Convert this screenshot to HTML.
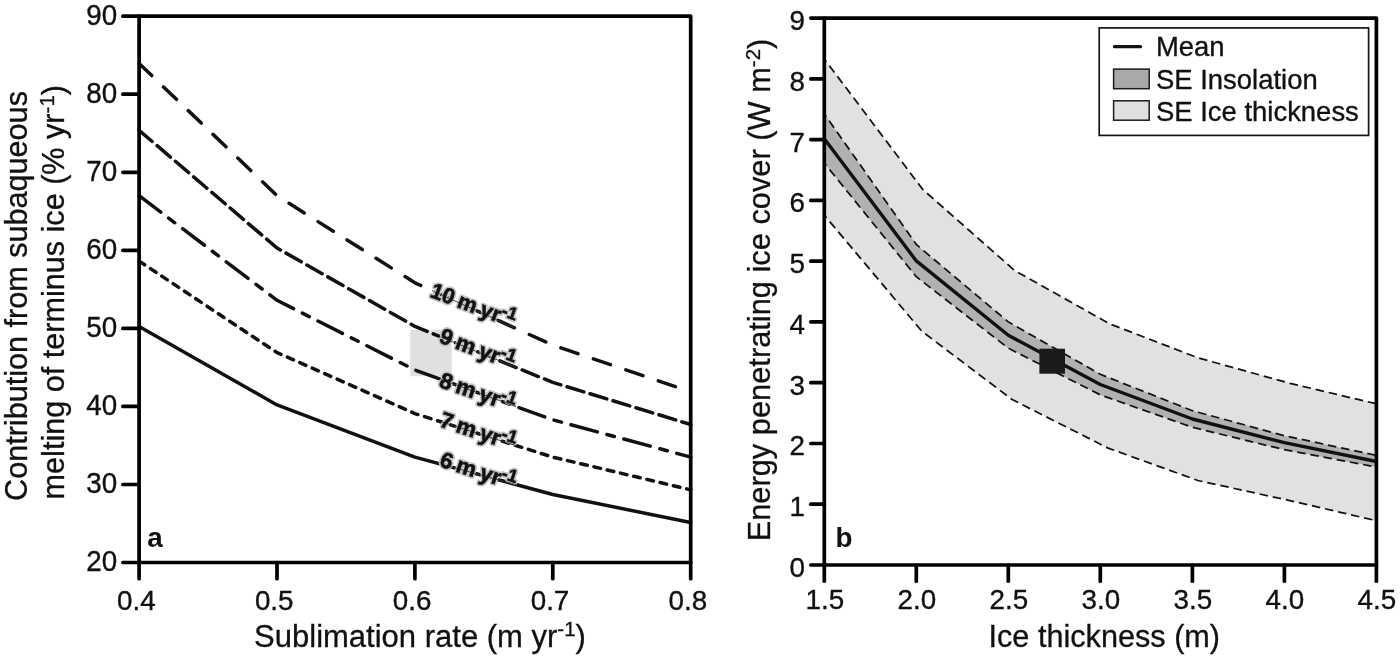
<!DOCTYPE html>
<html lang="en"><head><meta charset="utf-8"><title>Figure</title>
<style>html,body{margin:0;padding:0;background:#fff}svg{display:block}text{font-family:"Liberation Sans",Arial,Helvetica,sans-serif;fill:#111}</style></head><body>
<svg width="1400" height="659" viewBox="0 0 1400 659">
<rect width="1400" height="659" fill="#fff"/>
<g id="panel-a">
<rect x="410.2" y="330" width="41.6" height="46.2" fill="#e0e0e0"/>
<polyline points="139.1,326.4 277.0,404.9 414.9,457.1 552.8,494.5 690.7,522.5" fill="none" stroke="#111" stroke-width="3.5" stroke-linecap="round" stroke-linejoin="round"/>
<polyline points="139.1,261.1 277.0,352.6 414.9,413.6 552.8,457.1 690.7,489.8" fill="none" stroke="#111" stroke-width="3.5" stroke-linecap="round" stroke-linejoin="round" stroke-dasharray="6.7 6.9" stroke-dashoffset="0"/>
<polyline points="139.1,195.7 277.0,300.3 414.9,370.0 552.8,419.8 690.7,457.1" fill="none" stroke="#111" stroke-width="3.5" stroke-linecap="round" stroke-linejoin="round" stroke-dasharray="27.4 9.9 7.7 9.8" stroke-dashoffset="0.2"/>
<polyline points="139.1,130.3 277.0,248.0 414.9,326.4 552.8,382.4 690.7,424.5" fill="none" stroke="#111" stroke-width="3.5" stroke-linecap="round" stroke-linejoin="round" stroke-dasharray="17.5 6.5" stroke-dashoffset="0.3"/>
<polyline points="139.1,63.5 277.0,195.7 414.9,282.8 552.8,345.1 690.7,391.8" fill="none" stroke="#111" stroke-width="3.5" stroke-linecap="round" stroke-linejoin="round" stroke-dasharray="18 16.3" stroke-dashoffset="0.5"/>
<text transform="translate(429.0,296.6) rotate(20.5)" font-size="21.8" font-weight="bold" word-spacing="-1.4" style="font-family:'Liberation Sans',Arial,sans-serif" stroke="#c6c6c6" stroke-width="4" stroke-linejoin="round" fill="#c6c6c6">10 m yr<tspan font-size="17.4" dy="-7.6">-1</tspan></text>
<path d="M432.0 290.6 L516.0 328.5" stroke="#333" stroke-width="0.9" fill="none"/>
<text transform="translate(429.0,296.6) rotate(20.5)" font-size="21.8" font-weight="bold" word-spacing="-1.4" stroke="#111" stroke-width="0.6" style="fill:#111;font-family:'Liberation Sans',Arial,sans-serif">10 m yr<tspan font-size="17.4" dy="-7.6">-1</tspan></text>
<text transform="translate(437.9,342.0) rotate(20.5)" font-size="22.3" font-weight="bold" word-spacing="-1.4" style="font-family:'Liberation Sans',Arial,sans-serif" stroke="#c6c6c6" stroke-width="4" stroke-linejoin="round" fill="#c6c6c6">9 m yr<tspan font-size="17.8" dy="-7.6">-1</tspan></text>
<path d="M440.9 337.0 L516.0 367.5" stroke="#333" stroke-width="0.9" fill="none"/>
<text transform="translate(437.9,342.0) rotate(20.5)" font-size="22.3" font-weight="bold" word-spacing="-1.4" stroke="#111" stroke-width="0.6" style="fill:#111;font-family:'Liberation Sans',Arial,sans-serif">9 m yr<tspan font-size="17.8" dy="-7.6">-1</tspan></text>
<text transform="translate(437.9,386.5) rotate(19)" font-size="22.3" font-weight="bold" word-spacing="-1.4" style="font-family:'Liberation Sans',Arial,sans-serif" stroke="#c6c6c6" stroke-width="4" stroke-linejoin="round" fill="#c6c6c6">8 m yr<tspan font-size="17.8" dy="-7.6">-1</tspan></text>
<path d="M440.9 379.4 L516.0 406.5" stroke="#333" stroke-width="0.9" fill="none"/>
<text transform="translate(437.9,386.5) rotate(19)" font-size="22.3" font-weight="bold" word-spacing="-1.4" stroke="#111" stroke-width="0.6" style="fill:#111;font-family:'Liberation Sans',Arial,sans-serif">8 m yr<tspan font-size="17.8" dy="-7.6">-1</tspan></text>
<text transform="translate(438.4,426.0) rotate(18.5)" font-size="22.3" font-weight="bold" word-spacing="-1.4" style="font-family:'Liberation Sans',Arial,sans-serif" stroke="#c6c6c6" stroke-width="4" stroke-linejoin="round" fill="#c6c6c6">7 m yr<tspan font-size="17.8" dy="-7.6">-1</tspan></text>
<path d="M441.4 421.9 L516.0 445.5" stroke="#333" stroke-width="0.9" fill="none"/>
<text transform="translate(438.4,426.0) rotate(18.5)" font-size="22.3" font-weight="bold" word-spacing="-1.4" stroke="#111" stroke-width="0.6" style="fill:#111;font-family:'Liberation Sans',Arial,sans-serif">7 m yr<tspan font-size="17.8" dy="-7.6">-1</tspan></text>
<text transform="translate(438.4,466.0) rotate(18)" font-size="22.3" font-weight="bold" word-spacing="-1.4" style="font-family:'Liberation Sans',Arial,sans-serif" stroke="#c6c6c6" stroke-width="4" stroke-linejoin="round" fill="#c6c6c6">6 m yr<tspan font-size="17.8" dy="-7.6">-1</tspan></text>
<path d="M441.4 464.3 L516.0 484.5" stroke="#333" stroke-width="0.9" fill="none"/>
<text transform="translate(438.4,466.0) rotate(18)" font-size="22.3" font-weight="bold" word-spacing="-1.4" stroke="#111" stroke-width="0.6" style="fill:#111;font-family:'Liberation Sans',Arial,sans-serif">6 m yr<tspan font-size="17.8" dy="-7.6">-1</tspan></text>
<g stroke="#000" stroke-width="3.7" stroke-linecap="round" fill="none">
<path d="M139.1 16.2 H690.7 V562.5 H139.1 Z" stroke-linejoin="round"/>
<path d="M139.1 562.5 h-16.2"/>
<path d="M139.1 484.5 h-16.2"/>
<path d="M139.1 406.4 h-16.2"/>
<path d="M139.1 328.4 h-16.2"/>
<path d="M139.1 250.3 h-16.2"/>
<path d="M139.1 172.3 h-16.2"/>
<path d="M139.1 94.2 h-16.2"/>
<path d="M139.1 16.2 h-16.2"/>
<path d="M139.1 562.5 v16.2"/>
<path d="M277.0 562.5 v16.2"/>
<path d="M414.9 562.5 v16.2"/>
<path d="M552.8 562.5 v16.2"/>
<path d="M690.7 562.5 v16.2"/>
</g>
<text transform="translate(117.2,570.9) scale(1,1.06)" font-size="27.8" text-anchor="end" stroke="#111" stroke-width="0.35">20</text>
<text transform="translate(117.2,492.9) scale(1,1.06)" font-size="27.8" text-anchor="end" stroke="#111" stroke-width="0.35">30</text>
<text transform="translate(117.2,414.8) scale(1,1.06)" font-size="27.8" text-anchor="end" stroke="#111" stroke-width="0.35">40</text>
<text transform="translate(117.2,336.8) scale(1,1.06)" font-size="27.8" text-anchor="end" stroke="#111" stroke-width="0.35">50</text>
<text transform="translate(117.2,258.7) scale(1,1.06)" font-size="27.8" text-anchor="end" stroke="#111" stroke-width="0.35">60</text>
<text transform="translate(117.2,180.7) scale(1,1.06)" font-size="27.8" text-anchor="end" stroke="#111" stroke-width="0.35">70</text>
<text transform="translate(117.2,102.6) scale(1,1.06)" font-size="27.8" text-anchor="end" stroke="#111" stroke-width="0.35">80</text>
<text transform="translate(117.2,24.6) scale(1,1.06)" font-size="27.8" text-anchor="end" stroke="#111" stroke-width="0.35">90</text>
<text transform="translate(136.3,610.3) scale(1,1.015)" font-size="27.8" text-anchor="middle" stroke="#111" stroke-width="0.35">0.4</text>
<text transform="translate(274.2,610.3) scale(1,1.015)" font-size="27.8" text-anchor="middle" stroke="#111" stroke-width="0.35">0.5</text>
<text transform="translate(412.1,610.3) scale(1,1.015)" font-size="27.8" text-anchor="middle" stroke="#111" stroke-width="0.35">0.6</text>
<text transform="translate(550.0,610.3) scale(1,1.015)" font-size="27.8" text-anchor="middle" stroke="#111" stroke-width="0.35">0.7</text>
<text transform="translate(687.9,610.3) scale(1,1.015)" font-size="27.8" text-anchor="middle" stroke="#111" stroke-width="0.35">0.8</text>
<text x="420" y="646.6" font-size="31.0" text-anchor="middle" stroke="#111" stroke-width="0.3">Sublimation rate (m yr<tspan font-size="20.5" dy="-10.5">-1</tspan><tspan dy="10.5">)</tspan></text>
<text transform="translate(27.3,296.0) rotate(-90)" font-size="30.6" text-anchor="middle" stroke="#111" stroke-width="0.3">Contribution from subaqueous</text>
<text transform="translate(64.3,292.2) rotate(-90)" font-size="30.6" text-anchor="middle" stroke="#111" stroke-width="0.3">melting of terminus ice (% yr<tspan font-size="20.5" dy="-10.5">-1</tspan><tspan dy="10.5">)</tspan></text>
<text x="147.3" y="546.7" font-size="27.8" font-weight="bold">a</text>
</g>
<g id="panel-b">
<polygon points="824.3,59.0 922.8,189.5 1014.6,270.5 1109.6,323.8 1197.9,357.8 1289.9,383.3 1376.4,403.8 1376.4,520.7 1289.9,500.6 1197.9,480.5 1108.1,448.1 1012.2,399.6 921.8,331.2 824.3,215.2" fill="#e1e1e1"/>
<polygon points="824.3,113.9 916.3,244.5 1008.3,321.9 1100.3,374.3 1192.4,410.7 1284.4,435.7 1376.4,455.4 1376.4,467.0 1284.4,449.7 1192.4,427.3 1100.3,394.9 1008.3,348.2 916.3,276.7 824.3,163.1" fill="#b1b1b1"/>
<polyline points="824.3,59.0 922.8,189.5 1014.6,270.5 1109.6,323.8 1197.9,357.8 1289.9,383.3 1376.4,403.8" fill="none" stroke="#111" stroke-width="1.75" stroke-dasharray="8.5 4.9" stroke-dashoffset="5"/>
<polyline points="824.3,215.2 921.8,331.2 1012.2,399.6 1108.1,448.1 1197.9,480.5 1289.9,500.6 1376.4,520.7" fill="none" stroke="#111" stroke-width="1.75" stroke-dasharray="8.5 4.9" stroke-dashoffset="5"/>
<polyline points="824.3,113.9 916.3,244.5 1008.3,321.9 1100.3,374.3 1192.4,410.7 1284.4,435.7 1376.4,455.4" fill="none" stroke="#111" stroke-width="1.75" stroke-dasharray="8.5 4.9" stroke-dashoffset="5"/>
<polyline points="824.3,163.1 916.3,276.7 1008.3,348.2 1100.3,394.9 1192.4,427.3 1284.4,449.7 1376.4,467.0" fill="none" stroke="#111" stroke-width="1.75" stroke-dasharray="8.5 4.9" stroke-dashoffset="5"/>
<polyline points="824.3,138.8 916.3,260.9 1008.3,335.3 1100.3,384.5 1192.4,419.0 1284.4,442.7 1376.4,461.5" fill="none" stroke="#111" stroke-width="3.4" stroke-linejoin="round"/>
<rect x="1039.4" y="348.7" width="25.6" height="25" fill="#1a1a1a"/>
<g stroke="#000" stroke-width="3.7" stroke-linecap="round" fill="none">
<path d="M824.3 18.1 H1376.4 V565.0 H824.3 Z" stroke-linejoin="round"/>
<path d="M824.3 565.0 h-13.5"/>
<path d="M824.3 504.2 h-13.5"/>
<path d="M824.3 443.5 h-13.5"/>
<path d="M824.3 382.7 h-13.5"/>
<path d="M824.3 321.9 h-13.5"/>
<path d="M824.3 261.2 h-13.5"/>
<path d="M824.3 200.4 h-13.5"/>
<path d="M824.3 139.6 h-13.5"/>
<path d="M824.3 78.9 h-13.5"/>
<path d="M824.3 18.1 h-13.5"/>
<path d="M824.3 565.0 v16.2"/>
<path d="M916.3 565.0 v16.2"/>
<path d="M1008.3 565.0 v16.2"/>
<path d="M1100.3 565.0 v16.2"/>
<path d="M1192.4 565.0 v16.2"/>
<path d="M1284.4 565.0 v16.2"/>
<path d="M1376.4 565.0 v16.2"/>
</g>
<text transform="translate(805.0,576.9) scale(1,1.02)" font-size="27.8" text-anchor="end" stroke="#111" stroke-width="0.35">0</text>
<text transform="translate(805.0,516.1) scale(1,1.02)" font-size="27.8" text-anchor="end" stroke="#111" stroke-width="0.35">1</text>
<text transform="translate(805.0,455.4) scale(1,1.02)" font-size="27.8" text-anchor="end" stroke="#111" stroke-width="0.35">2</text>
<text transform="translate(805.0,394.6) scale(1,1.02)" font-size="27.8" text-anchor="end" stroke="#111" stroke-width="0.35">3</text>
<text transform="translate(805.0,333.8) scale(1,1.02)" font-size="27.8" text-anchor="end" stroke="#111" stroke-width="0.35">4</text>
<text transform="translate(805.0,273.1) scale(1,1.02)" font-size="27.8" text-anchor="end" stroke="#111" stroke-width="0.35">5</text>
<text transform="translate(805.0,212.3) scale(1,1.02)" font-size="27.8" text-anchor="end" stroke="#111" stroke-width="0.35">6</text>
<text transform="translate(805.0,151.5) scale(1,1.02)" font-size="27.8" text-anchor="end" stroke="#111" stroke-width="0.35">7</text>
<text transform="translate(805.0,90.8) scale(1,1.02)" font-size="27.8" text-anchor="end" stroke="#111" stroke-width="0.35">8</text>
<text transform="translate(805.0,30.0) scale(1,1.02)" font-size="27.8" text-anchor="end" stroke="#111" stroke-width="0.35">9</text>
<text transform="translate(824.8,609.4) scale(1,1.015)" font-size="27.8" text-anchor="middle" stroke="#111" stroke-width="0.35">1.5</text>
<text transform="translate(916.8,609.4) scale(1,1.015)" font-size="27.8" text-anchor="middle" stroke="#111" stroke-width="0.35">2.0</text>
<text transform="translate(1008.8,609.4) scale(1,1.015)" font-size="27.8" text-anchor="middle" stroke="#111" stroke-width="0.35">2.5</text>
<text transform="translate(1100.8,609.4) scale(1,1.015)" font-size="27.8" text-anchor="middle" stroke="#111" stroke-width="0.35">3.0</text>
<text transform="translate(1192.9,609.4) scale(1,1.015)" font-size="27.8" text-anchor="middle" stroke="#111" stroke-width="0.35">3.5</text>
<text transform="translate(1284.9,609.4) scale(1,1.015)" font-size="27.8" text-anchor="middle" stroke="#111" stroke-width="0.35">4.0</text>
<text transform="translate(1376.9,609.4) scale(1,1.015)" font-size="27.8" text-anchor="middle" stroke="#111" stroke-width="0.35">4.5</text>
<text x="1104.3" y="646.6" font-size="30.65" text-anchor="middle" stroke="#111" stroke-width="0.3">Ice thickness (m)</text>
<text transform="translate(770,290) rotate(-90)" font-size="30.8" text-anchor="middle" stroke="#111" stroke-width="0.3">Energy penetrating ice cover (W m<tspan font-size="20.5" dy="-10.5">-2</tspan><tspan dy="10.5">)</tspan></text>
<text x="835.5" y="546.8" font-size="27.8" font-weight="bold">b</text>
<rect x="1099.2" y="27.9" width="269.4" height="107.5" fill="#fff" stroke="#151515" stroke-width="1.7"/>
<path d="M1114.5 46.7 H1140.5" stroke="#111" stroke-width="3.3" stroke-linecap="round"/>
<rect x="1113.6" y="69.1" width="35.6" height="19.6" fill="#a9a9a9" stroke="#1a1a1a" stroke-width="1.5"/>
<rect x="1113.6" y="100.8" width="35.6" height="19.4" fill="#dfdfdf" stroke="#1a1a1a" stroke-width="1.5"/>
<text x="1156" y="56.1" font-size="27.45" stroke="#111" stroke-width="0.35">Mean</text>
<text x="1156" y="88.9" font-size="27.45" stroke="#111" stroke-width="0.35">SE Insolation</text>
<text x="1156" y="121.1" font-size="27.45" stroke="#111" stroke-width="0.35">SE Ice thickness</text>
</g>
</svg></body></html>
